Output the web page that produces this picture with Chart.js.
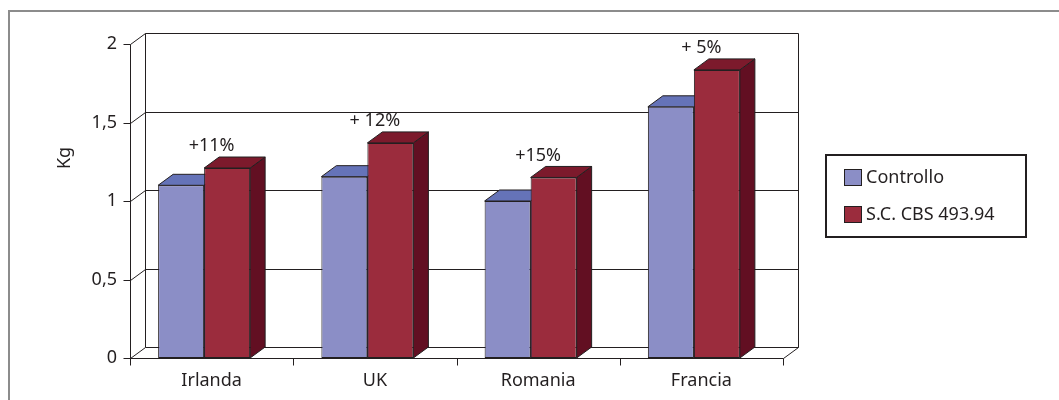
<!DOCTYPE html>
<html>
<head>
<meta charset="utf-8">
<script src="https://cdn.jsdelivr.net/npm/chart.js@4"></script>
<style>
  html, body { margin: 0; padding: 0; background: #fff; }
  #wrap { position: relative; width: 1059px; height: 400px; }
</style>
</head>
<body>
<div id="wrap"><canvas id="kgChart"></canvas></div>
<script>
// dati
const paesi = ['Irlanda', 'UK', 'Romania', 'Francia'];
const controllo = [1.10, 1.155, 1.00, 1.60];
const trattato = [1.21, 1.37, 1.15, 1.835];
const incrementi = ['+11%', '+ 12%', '+15%', '+ 5%'];
const nomiSerie = ['Controllo', 'S.C. CBS 493.94'];
const yTicks = [0, 0.5, 1, 1.5, 2];

// stile
const FONT = '"Noto Sans", "Open Sans", sans-serif';
const TESTO = '#231f20';
const BORDO = '#231f20';
const colori = [
    { front: '#8b8ec6', top: '#6573b8', side: '#4e5a98' },
    { front: '#9b2c3d', top: '#7c1a2c', side: '#620f22' }
];
const DX = 15, DY = -11;   // profondita' 3D
const SHIFT = -7.5;        // barre spostate a meta' profondita'

function linea(ctx, x1, y1, x2, y2) {
    ctx.beginPath();
    ctx.moveTo(x1, y1);
    ctx.lineTo(x2, y2);
    ctx.stroke();
}

function faccia(ctx, pts, fill) {
    ctx.beginPath();
    ctx.moveTo(pts[0][0], pts[0][1]);
    for (let i = 1; i < pts.length; i++) ctx.lineTo(pts[i][0], pts[i][1]);
    ctx.closePath();
    ctx.fillStyle = fill;
    ctx.fill();
    ctx.strokeStyle = BORDO;
    ctx.lineWidth = 1;
    ctx.stroke();
}

// pareti, griglia, assi e facce laterali/superiori delle barre
const grafico3D = {
    id: 'grafico3D',
    beforeDraw(chart) {
        const ctx = chart.ctx;
        ctx.save();
        ctx.strokeStyle = '#8c8c8c';
        ctx.lineWidth = 2;
        linea(ctx, 8, 11, chart.width, 11);
        linea(ctx, 9, 10, 9, chart.height);
        ctx.restore();
    },
    beforeDatasetsDraw(chart) {
        const { ctx, chartArea: a, scales: { x, y } } = chart;
        const L = a.left + 0.5, R = a.right + 0.5, B = Math.round(a.bottom) + 0.5;
        ctx.save();
        ctx.strokeStyle = BORDO;
        ctx.lineWidth = 1;

        yTicks.forEach(v => {
            const yf = Math.round(y.getPixelForValue(v)) + 0.5;
            linea(ctx, L, yf, L + DX, yf + DY);
            linea(ctx, L + DX, yf + DY, R + DX, yf + DY);
            linea(ctx, L - 7, yf, L, yf);
        });
        const yTop = Math.round(y.getPixelForValue(yTicks[yTicks.length - 1])) + 0.5;
        linea(ctx, L + DX, yTop + DY, L + DX, B + DY);
        linea(ctx, R + DX, yTop + DY, R + DX, B + DY);
        linea(ctx, R, B, R + DX, B + DY);
        linea(ctx, L, yTop, L, B);
        linea(ctx, L, B, R, B);

        const n = paesi.length;
        for (let i = 0; i <= n; i++) {
            const xb = Math.round(a.left + i * (a.right - a.left) / n) + 0.5;
            linea(ctx, xb, B, xb, B + 7);
        }

        for (let i = 0; i < n; i++) {
            chart.data.datasets.forEach((ds, d) => {
                const el = chart.getDatasetMeta(d).data[i];
                const l = el.x - el.width / 2 + SHIFT;
                const r = l + el.width;
                const t = el.y, b = el.base;
                faccia(ctx, [[r, t], [r + DX, t + DY], [r + DX, b + DY], [r, b]], colori[d].side);
                faccia(ctx, [[l, t], [r, t], [r + DX, t + DY], [l + DX, t + DY]], colori[d].top);
            });
        }
        ctx.restore();

        ctx.save();
        ctx.translate(SHIFT, 0);
    },
    afterDatasetsDraw(chart) {
        const { ctx, scales: { x } } = chart;
        ctx.restore();

        ctx.save();
        ctx.fillStyle = TESTO;
        ctx.font = '18px ' + FONT;
        ctx.textAlign = 'center';
        ctx.textBaseline = 'middle';
        const metaT = chart.getDatasetMeta(1);
        incrementi.forEach((txt, i) => {
            ctx.fillText(txt, x.getPixelForValue(i), metaT.data[i].y - 22);
        });

        // titolo asse Y
        ctx.translate(65, 158);
        ctx.rotate(-Math.PI / 2);
        ctx.fillText('Kg', 0, 0);
        ctx.restore();

        // legenda
        ctx.save();
        ctx.strokeStyle = BORDO;
        ctx.lineWidth = 2;
        ctx.strokeRect(826, 155, 200, 82);
        ctx.font = '18px ' + FONT;
        ctx.textBaseline = 'middle';
        nomiSerie.forEach((nome, d) => {
            const yc = 178 + d * 37;
            ctx.fillStyle = colori[d].front;
            ctx.fillRect(844.5, yc - 8.5, 17, 16);
            ctx.strokeStyle = BORDO;
            ctx.lineWidth = 1;
            ctx.strokeRect(844.5, yc - 8.5, 17, 16);
            ctx.fillStyle = TESTO;
            ctx.fillText(nome, 866, yc);
        });
        ctx.restore();
    }
};

const ctxKg = document.getElementById('kgChart').getContext('2d');
const kgChart = new Chart(ctxKg, {
    type: 'bar',
    data: {
        labels: paesi,
        datasets: [
            {
                label: nomiSerie[0],
                data: controllo,
                backgroundColor: colori[0].front,
                borderColor: BORDO,
                borderWidth: 1,
                borderSkipped: false
            },
            {
                label: nomiSerie[1],
                data: trattato,
                backgroundColor: colori[1].front,
                borderColor: BORDO,
                borderWidth: 1,
                borderSkipped: false
            }
        ]
    },
    options: {
        responsive: true,
        maintainAspectRatio: false,
        animation: false,
        categoryPercentage: 0.5636,
        barPercentage: 1,
        layout: { padding: { left: 0, top: 44, right: 276, bottom: 0 } },
        plugins: {
            legend: { display: false },
            tooltip: { enabled: false }
        },
        scales: {
            x: {
                grid: { display: false, drawTicks: false },
                border: { display: false },
                ticks: { color: TESTO, font: { family: FONT, size: 18 }, padding: 12, maxRotation: 0 },
                afterFit(s) { s.height = 42; }
            },
            y: {
                min: 0,
                max: 2,
                grid: { display: false, drawTicks: false },
                border: { display: false },
                ticks: {
                    stepSize: 0.5,
                    color: TESTO,
                    font: { family: FONT, size: 18 },
                    padding: 13,
                    callback: function(value) {
                        return String(value).replace('.', ',');
                    }
                },
                afterFit(s) { s.width = 130; }
            }
        }
    },
    plugins: [grafico3D]
});
</script>
</body>
</html>
